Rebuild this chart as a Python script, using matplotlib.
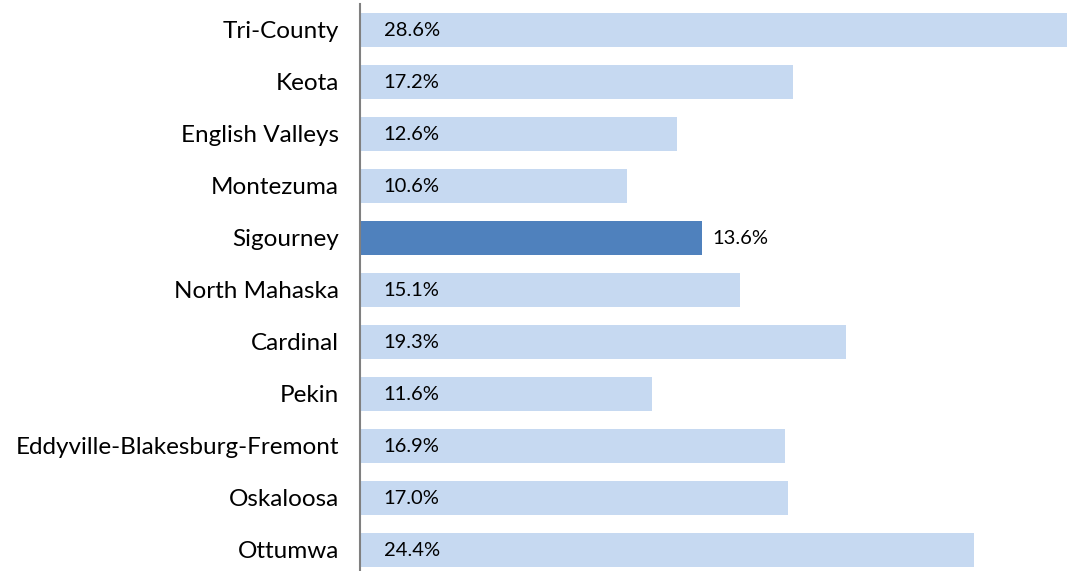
import matplotlib
matplotlib.use("Agg")
import matplotlib.pyplot as plt

districts = ["Tri-County", "Keota", "English Valleys", "Montezuma", "Sigourney",
             "North Mahaska", "Cardinal", "Pekin", "Eddyville-Blakesburg-Fremont",
             "Oskaloosa", "Ottumwa"]
pct = [28.6, 17.2, 12.6, 10.6, 13.6, 15.1, 19.3, 11.6, 16.9, 17.0, 24.4]
highlight = "Sigourney"

light = "#C6D9F1"
dark = "#4F81BD"

plt.rcParams['font.family'] = ['Lato', 'DejaVu Sans']

fig = plt.figure(figsize=(10.67, 5.71), dpi=100)
ax = fig.add_axes([360 / 1067, -5 / 571, 1 - 360 / 1067, 572 / 571])

ypos = list(range(len(districts)))
colors = [dark if d == highlight else light for d in districts]
ax.barh(ypos, pct, height=0.65, color=colors, zorder=2)

for y, d, v in zip(ypos, districts, pct):
    if d == highlight:
        ax.annotate(f"{v:.1f}%", (v, y), xytext=(7, 0), textcoords="offset points",
                    va="center", ha="left", fontsize=14.5, color="black")
    else:
        ax.annotate(f"{v:.1f}%", (0, y), xytext=(17, 0), textcoords="offset points",
                    va="center", ha="left", fontsize=14.5, color="black")

ax.set_xlim(0, 28.1)
ax.set_ylim(len(districts) - 0.5, -0.5)
ax.set_yticks(ypos)
ax.set_yticklabels(districts, fontsize=17.5)
ax.tick_params(axis="y", length=0, pad=15)
ax.set_xticks([])
for s in ["top", "right", "bottom"]:
    ax.spines[s].set_visible(False)
ax.spines["left"].set_color("#808080")
ax.spines["left"].set_linewidth(1.5)
ax.spines["left"].set_zorder(3)

fig.savefig("out.png", dpi=100)
